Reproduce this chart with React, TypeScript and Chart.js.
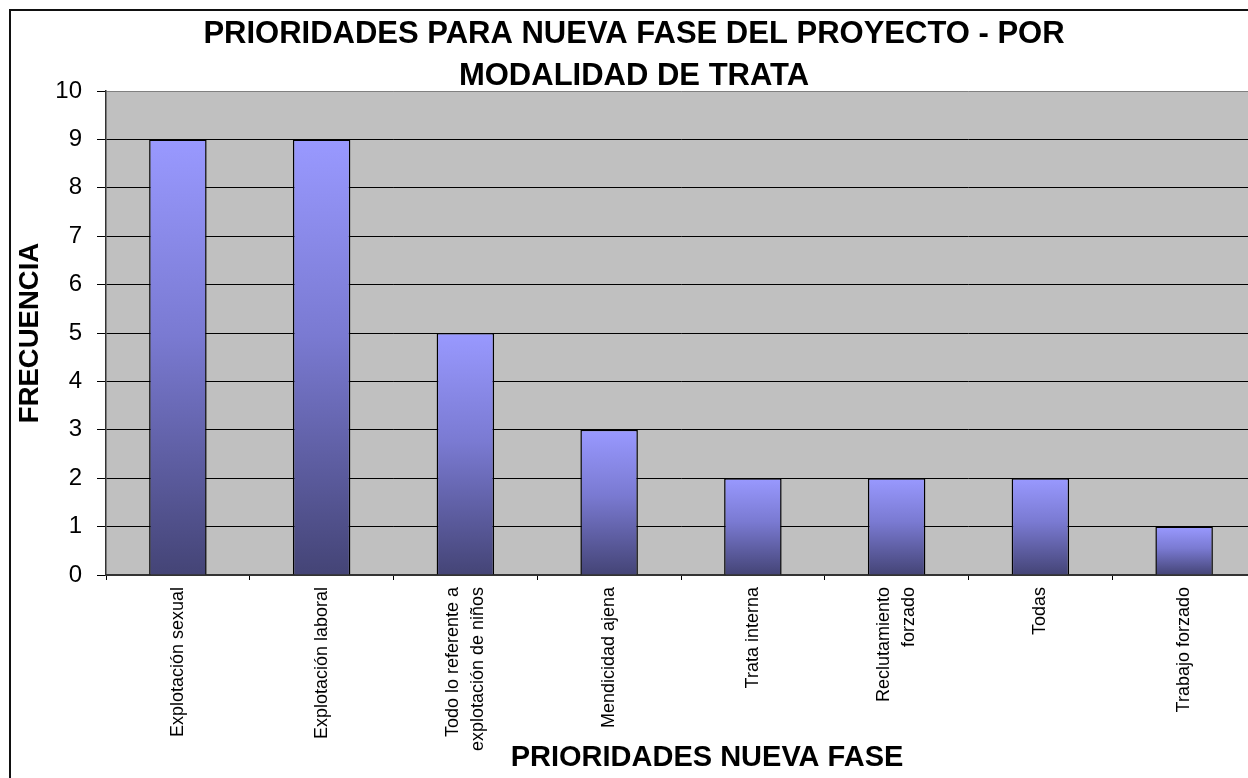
import React, { useEffect, useRef } from "react";
import { Chart, registerables } from "chart.js";

Chart.register(...registerables);

const TITLE_LINES = ["PRIORIDADES PARA NUEVA FASE DEL PROYECTO - POR", "MODALIDAD DE TRATA"];
const X_TITLE = "PRIORIDADES NUEVA FASE";
const Y_TITLE = "FRECUENCIA";

const categories: (string | string[])[] = [
  "Explotación sexual",
  "Explotación laboral",
  ["Todo lo referente a", "explotación de niños"],
  "Mendicidad ajena",
  "Trata interna",
  ["Reclutamiento", "forzado"],
  "Todas",
  "Trabajo forzado",
];
const frecuencia: number[] = [9, 9, 5, 3, 2, 2, 2, 1];

const FONT = '"Liberation Sans", Arial, sans-serif';

const plotBg = {
  id: "plotBg",
  beforeDraw(chart: any) {
    const { ctx, chartArea } = chart;
    if (!chartArea) return;
    ctx.save();
    ctx.fillStyle = "#C0C0C0";
    ctx.fillRect(chartArea.left, chartArea.top, chartArea.right - chartArea.left, chartArea.bottom - chartArea.top);
    ctx.restore();
  },
};

const labelFix = {
  id: "labelFix",
  beforeDraw(chart: any) {
    const s: any = chart.scales.x;
    if (!s || !s.getLabelItems) return;
    const items = s.getLabelItems();
    items.forEach((it: any) => {
      if (it._fixed) return;
      const n = Array.isArray(it.label) ? it.label.length : 1;
      if (n > 1) it.textOffset -= ((n - 1) * it.font.lineHeight) / 2;
      it._fixed = true;
    });
  },
};

const xTitle = {
  id: "xTitle",
  afterDraw(chart: any) {
    const { ctx, chartArea } = chart;
    ctx.save();
    ctx.font = `bold 29px ${FONT}`;
    ctx.fillStyle = "#000";
    ctx.textAlign = "center";
    ctx.textBaseline = "middle";
    ctx.fillText(X_TITLE, (chartArea.left + chartArea.right) / 2 + 26, chartArea.bottom + 183);
    ctx.restore();
  },
};

export default function App() {
  const ref = useRef<HTMLCanvasElement | null>(null);

  useEffect(() => {
    if (!ref.current) return;
    const chart = new Chart(ref.current, {
      type: "bar",
      data: {
        labels: categories,
        datasets: [
          {
            label: Y_TITLE,
            data: frecuencia,
            backgroundColor: (c: any) => {
              const chart = c.chart;
              const { ctx, chartArea, scales } = chart;
              if (!chartArea || !scales.y || c.raw == null) return "#9999FF";
              const top = scales.y.getPixelForValue(c.raw);
              const bottom = scales.y.getPixelForValue(0);
              if (!isFinite(top) || !isFinite(bottom) || top === bottom) return "#9999FF";
              const g = ctx.createLinearGradient(0, top, 0, bottom);
              g.addColorStop(0, "#9999FF");
              g.addColorStop(0.45, "#7A7AD2");
              g.addColorStop(1, "#444476");
              return g;
            },
            borderColor: "#000",
            borderWidth: 1.5,
            borderSkipped: "bottom",
            barPercentage: 0.4,
            categoryPercentage: 1.0,
          },
        ],
      },
      options: {
        responsive: false,
        animation: false,
        devicePixelRatio: 1,
        layout: { padding: { left: 1, right: 55, top: 0, bottom: 0 } },
        plugins: {
          legend: { display: false },
          tooltip: { enabled: false },
          title: {
            display: true,
            text: TITLE_LINES,
            color: "#000",
            font: { family: FONT, size: 31, weight: "bold", lineHeight: "42px" },
            padding: { top: 2, bottom: -6 },
          },
        },
        scales: {
          x: {
            type: "category",
            offset: true,
            grid: {
              display: true,
              drawOnChartArea: false,
              drawTicks: true,
              tickLength: 5,
              color: "#000",
              offset: true,
            },
            border: { display: true, color: "#333", width: 2 },
            ticks: {
              color: "#000",
              font: { family: FONT, size: 18, lineHeight: 1.4 },
              maxRotation: 90,
              minRotation: 90,
              autoSkip: false,
              padding: 7,
            },
            afterFit: (scale: any) => {
              scale.height = 203;
            },
          },
          y: {
            min: 0,
            max: 10,
            ticks: {
              stepSize: 1,
              color: "#000",
              font: { family: FONT, size: 24 },
              padding: 15,
            },
            grid: {
              color: (c: any) => (c.tick && c.tick.value === 10 ? "#808080" : "#000"),
              tickColor: "#000",
              tickLength: 9,
              lineWidth: 1,
            },
            border: { display: true, color: "#333", width: 1.5 },
            title: {
              display: true,
              text: Y_TITLE,
              color: "#000",
              font: { family: FONT, size: 27.5, weight: "bold" },
              padding: { top: 2, bottom: 0 },
            },
            afterFit: (scale: any) => {
              scale.width = 94;
            },
          },
        },
      },
      plugins: [plotBg, labelFix, xTitle],
    } as any);
    return () => chart.destroy();
  }, []);

  return (
    <div
      style={{
        position: "fixed",
        left: 0,
        top: 0,
        width: 1248,
        height: 778,
        overflow: "hidden",
        background: "#fff",
      }}
    >
      <div
        style={{
          position: "absolute",
          left: 9,
          top: 9,
          width: 1400,
          height: 900,
          borderLeft: "2px solid #111",
          borderTop: "2px solid #111",
        }}
      />
      <canvas
        ref={ref}
        width={1300}
        height={767}
        style={{ position: "absolute", left: 11, top: 11, width: 1300, height: 767 }}
      />
    </div>
  );
}
